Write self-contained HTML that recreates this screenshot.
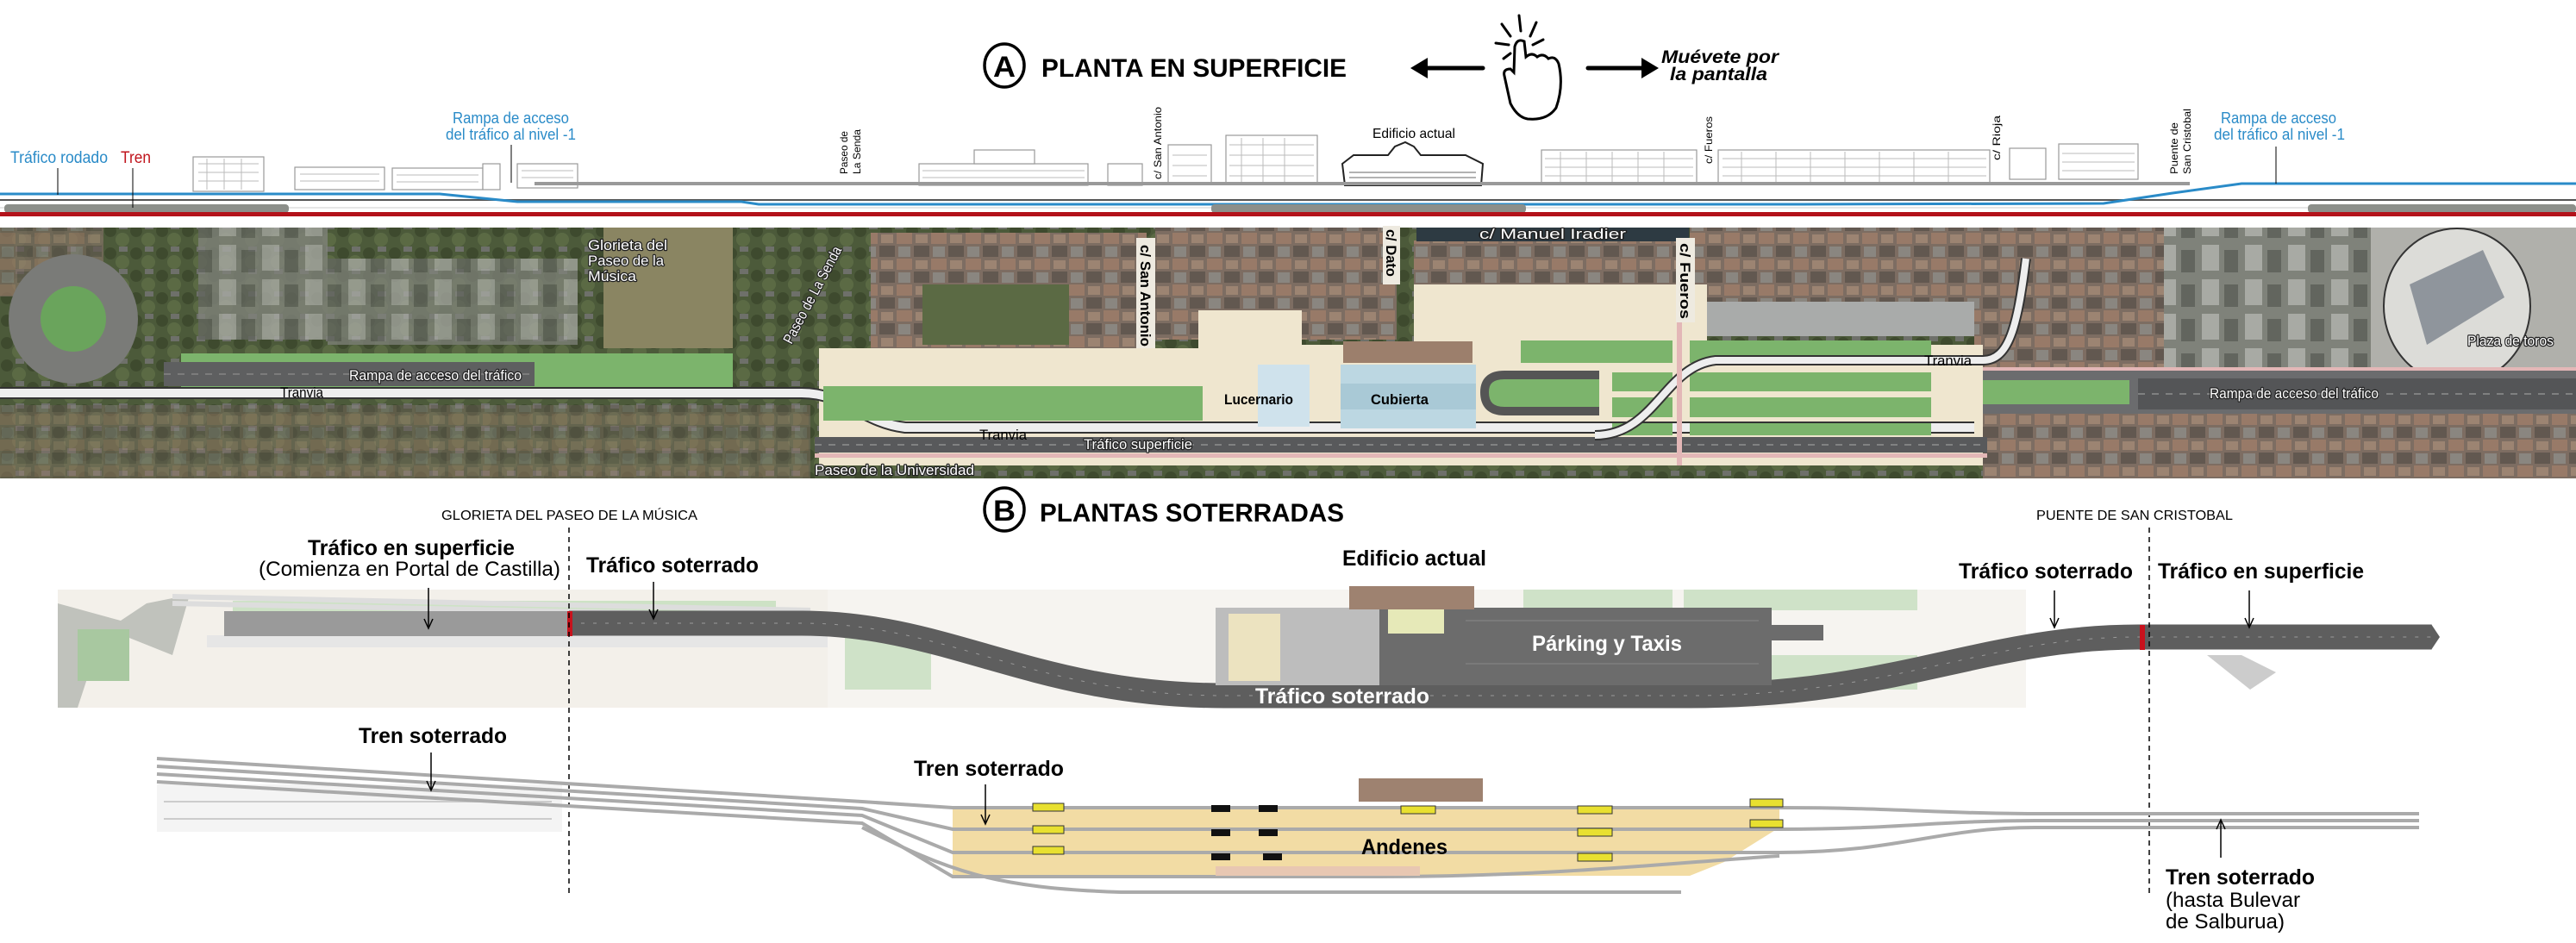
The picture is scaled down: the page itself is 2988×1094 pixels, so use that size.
<!DOCTYPE html>
<html><head><meta charset="utf-8">
<style>
html,body{margin:0;padding:0;background:#fff;}
svg{display:block;}
text{font-family:"Liberation Sans",sans-serif;}
.c{font-weight:bold;}
</style></head>
<body>
<svg width="2988" height="1094" viewBox="0 0 2988 1094" xmlns="http://www.w3.org/2000/svg">
<rect width="2988" height="1094" fill="#fff"/>

<!-- ===== TITLE A ===== -->
<ellipse cx="1165" cy="76" rx="23" ry="25" fill="none" stroke="#000" stroke-width="3.5"/>
<text x="1165" y="89" font-size="34" class="c" text-anchor="middle" textLength="26" lengthAdjust="spacingAndGlyphs">A</text>
<text x="1208" y="89" font-size="30" class="c" textLength="354" lengthAdjust="spacingAndGlyphs">PLANTA EN SUPERFICIE</text>

<!-- hand icon -->
<g stroke="#000" stroke-width="5" fill="none" stroke-linecap="round">
  <line x1="1720" y1="79" x2="1648" y2="79"/>
  <line x1="1842" y1="79" x2="1912" y2="79"/>
</g>
<polygon points="1636,79 1656,67 1656,91" fill="#000"/>
<polygon points="1924,79 1904,67 1904,91" fill="#000"/>
<g stroke="#000" stroke-width="3" fill="none" stroke-linecap="round">
  <path d="M1752,120 L1745,88 Q1743,80 1752,80 L1756,84 L1757,54 Q1760,44 1768,48 L1770,66 Q1777,60 1783,66 Q1790,61 1796,68 Q1804,64 1808,74 Q1814,100 1805,125 Q1795,140 1772,138 Q1760,136 1752,120 Z"/>
  <line x1="1762" y1="18" x2="1764" y2="36"/>
  <line x1="1742" y1="28" x2="1752" y2="42"/>
  <line x1="1782" y1="26" x2="1775" y2="42"/>
  <line x1="1735" y1="50" x2="1750" y2="52"/>
  <line x1="1790" y1="46" x2="1778" y2="52"/>
  <line x1="1744" y1="68" x2="1752" y2="62"/>
</g>
<text x="1927" y="73" font-size="21" font-weight="bold" font-style="italic" textLength="136" lengthAdjust="spacingAndGlyphs">Muévete por</text>
<text x="1937" y="93" font-size="21" font-weight="bold" font-style="italic" textLength="113" lengthAdjust="spacingAndGlyphs">la pantalla</text>

<!-- ===== PROFILE ===== -->
<g fill="#fff" stroke="#999" stroke-width="1.2">
  <rect x="224" y="182" width="82" height="40"/>
  <rect x="342" y="194" width="104" height="26"/>
  <rect x="455" y="195" width="105" height="25"/>
  <rect x="560" y="190" width="20" height="30"/>
  <rect x="600" y="190" width="70" height="28"/>
  <rect x="1066" y="190" width="196" height="25"/>
  <rect x="1130" y="174" width="70" height="16"/>
  <rect x="1285" y="190" width="40" height="25"/>
  <rect x="1355" y="168" width="50" height="44"/>
  <rect x="1422" y="157" width="106" height="56"/>
  <rect x="1788" y="174" width="180" height="40"/>
  <rect x="1993" y="174" width="315" height="40"/>
  <rect x="2331" y="172" width="42" height="36"/>
  <rect x="2388" y="167" width="92" height="41"/>
</g>
<g stroke="#bbb" stroke-width="1">
  <path d="M230,190 H300 M230,200 H300 M230,210 H300 M348,202 H440 M348,210 H440 M460,203 H555 M460,211 H555 M605,198 H665 M605,206 H665 M1070,198 H1258 M1070,206 H1258 M1360,180 H1400 M1360,192 H1400 M1360,204 H1400 M1426,168 H1524 M1426,180 H1524 M1426,192 H1524 M1426,204 H1524 M1792,184 H1964 M1792,194 H1964 M1792,204 H1964 M1998,184 H2304 M1998,194 H2304 M1998,204 H2304 M2392,178 H2476 M2392,188 H2476 M2392,198 H2476"/>
  <path d="M240,184 V220 M260,184 V220 M280,184 V220 M1810,176 V212 M1840,176 V212 M1870,176 V212 M1900,176 V212 M1930,176 V212 M2020,176 V212 M2060,176 V212 M2100,176 V212 M2140,176 V212 M2180,176 V212 M2220,176 V212 M2260,176 V212 M1440,160 V211 M1465,160 V211 M1490,160 V211"/>
</g>
<!-- Edificio actual profile -->
<g fill="#fff" stroke="#222" stroke-width="2">
  <path d="M1557,190 L1570,180 L1610,180 L1618,170 L1630,165 L1640,170 L1648,180 L1700,180 L1720,190 L1718,215 L1560,215 Z"/>
</g>
<g stroke="#666" stroke-width="1"><path d="M1565,200 H1712 M1565,206 H1712"/></g>

<!-- ground lines -->
<g fill="none">
  <path d="M620,213 H2540" stroke="#999" stroke-width="4"/>
  <path d="M0,232 H2990" stroke="#555" stroke-width="2"/>
  <path d="M0,225 H510 L600,234 H860 L880,237 H2090 L2440,236 L2520,224 L2600,213 H2990" stroke="#2a8bc8" stroke-width="3"/>
  <path d="M0,241 H2990" stroke="#ccc" stroke-width="1"/>
</g>
<g fill="#8c8f8a">
  <rect x="5" y="237" width="330" height="10" rx="4"/>
  <rect x="1405" y="237" width="365" height="10" rx="4"/>
  <rect x="2677" y="237" width="311" height="10" rx="4"/>
</g>
<rect x="0" y="246" width="2988" height="5" fill="#b3121a"/>

<text x="12" y="189" font-size="19" fill="#2a8bc8" textLength="113" lengthAdjust="spacingAndGlyphs">Tráfico rodado</text>
<text x="140" y="189" font-size="19" fill="#c0141c" textLength="35" lengthAdjust="spacingAndGlyphs">Tren</text>
<line x1="67" y1="195" x2="67" y2="226" stroke="#000" stroke-width="1"/>
<line x1="154" y1="195" x2="154" y2="241" stroke="#000" stroke-width="1"/>
<text x="525" y="143" font-size="18" fill="#2a8bc8" textLength="135" lengthAdjust="spacingAndGlyphs">Rampa de acceso</text>
<text x="517" y="162" font-size="18" fill="#2a8bc8" textLength="151" lengthAdjust="spacingAndGlyphs">del tráfico al nivel -1</text>
<line x1="593" y1="168" x2="593" y2="212" stroke="#000" stroke-width="1"/>
<text x="2576" y="143" font-size="18" fill="#2a8bc8" textLength="134" lengthAdjust="spacingAndGlyphs">Rampa de acceso</text>
<text x="2568" y="162" font-size="18" fill="#2a8bc8" textLength="152" lengthAdjust="spacingAndGlyphs">del tráfico al nivel -1</text>
<line x1="2640" y1="170" x2="2640" y2="213" stroke="#000" stroke-width="1"/>
<text x="1592" y="160" font-size="16" textLength="96" lengthAdjust="spacingAndGlyphs">Edificio actual</text>
<g font-size="12">
  <text transform="translate(983,202) rotate(-90)" textLength="50" lengthAdjust="spacingAndGlyphs">Paseo de</text>
  <text transform="translate(998,202) rotate(-90)" textLength="52" lengthAdjust="spacingAndGlyphs">La Senda</text>
  <text transform="translate(1347,208) rotate(-90)" textLength="84" lengthAdjust="spacingAndGlyphs">c/ San Antonio</text>
  <text transform="translate(1986,190) rotate(-90)" textLength="55" lengthAdjust="spacingAndGlyphs">c/ Fueros</text>
  <text transform="translate(2320,186) rotate(-90)" textLength="52" lengthAdjust="spacingAndGlyphs">c/ Rioja</text>
  <text transform="translate(2526,202) rotate(-90)" textLength="60" lengthAdjust="spacingAndGlyphs">Puente de</text>
  <text transform="translate(2541,202) rotate(-90)" textLength="76" lengthAdjust="spacingAndGlyphs">San Cristobal</text>
</g>

<!-- ===== AERIAL ===== -->
<defs>
  <pattern id="roofs" width="40" height="30" patternUnits="userSpaceOnUse">
    <rect width="40" height="30" fill="#7d6d62"/>
    <rect x="0" y="0" width="18" height="13" fill="#987a68"/>
    <rect x="20" y="15" width="18" height="13" fill="#625850"/>
    <rect x="22" y="2" width="14" height="10" fill="#9c8472"/>
    <rect x="2" y="16" width="14" height="12" fill="#8a8680"/>
  </pattern>
  <pattern id="trees" width="30" height="26" patternUnits="userSpaceOnUse">
    <rect width="30" height="26" fill="#4c5a3a"/>
    <circle cx="8" cy="8" r="7" fill="#3e4a2e"/>
    <circle cx="22" cy="18" r="8" fill="#5b6a44"/>
    <rect x="18" y="0" width="10" height="6" fill="#6e706a"/>
  </pattern>
  <pattern id="blocks" width="50" height="40" patternUnits="userSpaceOnUse">
    <rect width="50" height="40" fill="#7f827a"/>
    <rect x="4" y="4" width="20" height="30" fill="#a8aaa4"/>
    <rect x="30" y="10" width="16" height="26" fill="#62655e"/>
  </pattern>
</defs>
<rect x="0" y="264" width="2988" height="291" fill="url(#trees)"/>
<rect x="0" y="264" width="120" height="80" fill="url(#roofs)" opacity="0.7"/>
<rect x="230" y="264" width="150" height="130" fill="url(#blocks)" opacity="0.8"/>
<rect x="380" y="300" width="290" height="100" fill="url(#blocks)" opacity="0.75"/>
<rect x="700" y="264" width="150" height="140" fill="#8a8562"/>
<rect x="1010" y="270" width="320" height="135" fill="url(#roofs)"/>
<rect x="1070" y="330" width="170" height="70" fill="#5b6a44"/>
<rect x="1340" y="264" width="280" height="130" fill="url(#roofs)"/>
<rect x="1640" y="279" width="320" height="120" fill="url(#roofs)"/>
<rect x="1960" y="264" width="330" height="110" fill="url(#roofs)"/>
<rect x="1960" y="350" width="330" height="40" fill="#a9abaa"/>
<rect x="2290" y="264" width="220" height="170" fill="url(#roofs)"/>
<rect x="2510" y="264" width="240" height="170" fill="url(#blocks)"/>
<rect x="2750" y="264" width="238" height="180" fill="#b0b0ab"/>
<ellipse cx="2850" cy="355" rx="85" ry="90" fill="#dcdcd8" stroke="#333" stroke-width="2"/>
<path d="M2795,330 L2880,290 L2905,345 L2815,400 Z" fill="#8f959c"/>
<rect x="1050" y="535" width="1250" height="20" fill="url(#trees)"/>
<rect x="2300" y="475" width="688" height="80" fill="url(#roofs)"/>
<rect x="0" y="470" width="940" height="85" fill="url(#roofs)" opacity="0.5"/>
<!-- roundabout -->
<circle cx="85" cy="370" r="75" fill="#7a7b78"/>
<circle cx="85" cy="370" r="38" fill="#6aa45c"/>
<!-- plaza beige -->
<path d="M215,404 H950 V540 H2300 V400 H1980 V330 H1640 V400 H1400 V404 H215 Z" fill="#efe6cf"/>
<rect x="1390" y="360" width="120" height="45" fill="#efe6cf"/>
<!-- left green + rampa -->
<rect x="210" y="410" width="640" height="48" fill="#7cb46c"/>
<rect x="190" y="420" width="430" height="28" fill="#5e5f60"/>
<line x1="190" y1="434" x2="620" y2="434" stroke="#999" stroke-dasharray="8 8"/>
<!-- tranvia left -->
<path d="M0,456 H930 C980,456 1000,490 1050,496 H2290" fill="none" stroke="#333" stroke-width="14"/>
<path d="M0,456 H930 C980,456 1000,490 1050,496 H2290" fill="none" stroke="#eeeeee" stroke-width="10"/>
<!-- center greens -->
<rect x="955" y="448" width="440" height="40" fill="#7cb46c"/>
<!-- trafico superficie -->
<rect x="945" y="507" width="1360" height="18" fill="#58595b"/>
<line x1="945" y1="516" x2="2305" y2="516" stroke="#aaa" stroke-dasharray="8 8"/>
<rect x="945" y="526" width="1360" height="5" fill="#e3b7b7"/>
<!-- lucernario & cubierta -->
<rect x="1459" y="423" width="60" height="72" fill="#cfe2ec"/>
<rect x="1555" y="423" width="157" height="74" fill="#bcd7e2"/>
<rect x="1555" y="445" width="157" height="30" fill="#a9c9d6"/>
<rect x="1558" y="396" width="150" height="25" fill="#9c7f6c"/>
<!-- u-turn -->
<path d="M1855,435 H1745 Q1722,435 1722,455 Q1722,477 1745,477 H1855" fill="#7cb46c" stroke="#555" stroke-width="10"/>
<!-- right greens -->
<g fill="#7cb46c">
  <rect x="1764" y="395" width="176" height="26"/><rect x="1960" y="395" width="280" height="26"/>
  <rect x="1870" y="432" width="70" height="22"/><rect x="1960" y="432" width="280" height="22"/>
  <rect x="1870" y="461" width="70" height="23"/><rect x="1960" y="461" width="280" height="23"/>
  <rect x="1870" y="491" width="70" height="14"/><rect x="1960" y="491" width="280" height="14"/>
</g>
<path d="M1850,505 C1920,505 1930,425 1990,418 H2300 C2330,418 2340,380 2350,300" fill="none" stroke="#333" stroke-width="12"/>
<path d="M1850,505 C1920,505 1930,425 1990,418 H2300 C2330,418 2340,380 2350,300" fill="none" stroke="#eee" stroke-width="8"/>
<rect x="1945" y="330" width="6" height="210" fill="#e3b7b7"/>
<!-- right rampa -->
<rect x="2300" y="430" width="688" height="50" fill="#6b6c6e"/>
<rect x="2300" y="441" width="170" height="28" fill="#7cb46c"/>
<rect x="2480" y="439" width="508" height="36" fill="#545557"/>
<line x1="2480" y1="457" x2="2988" y2="457" stroke="#aaa" stroke-dasharray="8 8"/>
<rect x="2300" y="426" width="688" height="4" fill="#e3b7b7"/>
<!-- manuel iradier box -->
<rect x="1643" y="264" width="316" height="16" fill="#2d3a42"/>
<!-- aerial labels -->
<g font-size="17" fill="#fff" stroke="#222" stroke-width="2.5" paint-order="stroke" stroke-linejoin="round">
  <text x="682" y="290" textLength="92" lengthAdjust="spacingAndGlyphs">Glorieta del</text>
  <text x="682" y="308" textLength="88" lengthAdjust="spacingAndGlyphs">Paseo de la</text>
  <text x="682" y="326" textLength="56" lengthAdjust="spacingAndGlyphs">Música</text>
  <text x="405" y="441" textLength="200" lengthAdjust="spacingAndGlyphs">Rampa de acceso del tráfico</text>
  <text x="1257" y="521" textLength="126" lengthAdjust="spacingAndGlyphs">Tráfico superficie</text>
  <text x="945" y="551" textLength="185" lengthAdjust="spacingAndGlyphs">Paseo de la Universidad</text>
  <text x="1716" y="277" textLength="170" lengthAdjust="spacingAndGlyphs">c/ Manuel Iradier</text>
  <text x="2862" y="401" textLength="100" lengthAdjust="spacingAndGlyphs">Plaza de toros</text>
  <text x="2563" y="462" textLength="196" lengthAdjust="spacingAndGlyphs">Rampa de acceso del tráfico</text>
  <text transform="translate(918,400) rotate(-62)" textLength="125" lengthAdjust="spacingAndGlyphs">Paseo de La Senda</text>
</g>
<g font-size="17" fill="#000">
  <text x="325" y="461" textLength="50" lengthAdjust="spacingAndGlyphs">Tranvia</text>
  <text x="1136" y="510" textLength="55" lengthAdjust="spacingAndGlyphs">Tranvia</text>
  <text x="2232" y="424" textLength="55" lengthAdjust="spacingAndGlyphs">Tranvia</text>
  <text x="1420" y="469" textLength="80" lengthAdjust="spacingAndGlyphs" font-weight="bold">Lucernario</text>
  <text x="1590" y="469" textLength="67" lengthAdjust="spacingAndGlyphs" font-weight="bold">Cubierta</text>
</g>
<rect x="1318" y="276" width="22" height="128" fill="#eeeae0"/>
<rect x="1604" y="262" width="20" height="68" fill="#eeeae0"/>
<rect x="1944" y="276" width="22" height="98" fill="#eeeae0"/>
<g font-size="17" fill="#000" font-weight="bold">
  <text transform="translate(1323,284) rotate(90)" textLength="118" lengthAdjust="spacingAndGlyphs">c/ San Antonio</text>
  <text transform="translate(1608,266) rotate(90)" textLength="55" lengthAdjust="spacingAndGlyphs">c/ Dato</text>
  <text transform="translate(1949,282) rotate(90)" textLength="88" lengthAdjust="spacingAndGlyphs">c/ Fueros</text>
</g>

<!-- ===== TITLE B ===== -->
<ellipse cx="1165" cy="591" rx="23" ry="25" fill="none" stroke="#000" stroke-width="3.5"/>
<text x="1165" y="604" font-size="34" class="c" text-anchor="middle" textLength="26" lengthAdjust="spacingAndGlyphs">B</text>
<text x="1206" y="605" font-size="30" class="c" textLength="353" lengthAdjust="spacingAndGlyphs">PLANTAS SOTERRADAS</text>
<text x="512" y="603" font-size="16" textLength="297" lengthAdjust="spacingAndGlyphs">GLORIETA DEL PASEO DE LA MÚSICA</text>
<text x="2362" y="603" font-size="16" textLength="228" lengthAdjust="spacingAndGlyphs">PUENTE DE SAN CRISTOBAL</text>

<!-- traffic plan backgrounds -->
<rect x="67" y="684" width="893" height="137" fill="#f3f0ea"/>
<path d="M67,700 L140,720 L170,700 L220,690 L200,760 L150,740 L110,760 L90,821 H67 Z" fill="#c0c2bc"/>
<rect x="90" y="730" width="60" height="60" fill="#a8c8a0"/>
<rect x="270" y="697" width="630" height="18" fill="#cde2c5"/>
<g stroke="#ddd" stroke-width="6"><line x1="200" y1="692" x2="940" y2="708"/><line x1="200" y1="700" x2="940" y2="715"/></g>
<rect x="240" y="737" width="720" height="14" fill="#e6e6e6"/>
<rect x="960" y="684" width="1390" height="137" fill="#f6f4f0"/>
<rect x="1767" y="684" width="173" height="24" fill="#cfe2c8"/>
<rect x="1953" y="684" width="271" height="24" fill="#cfe2c8"/>
<rect x="1990" y="760" width="234" height="40" fill="#cfe2c8"/>
<rect x="980" y="740" width="100" height="60" fill="#cfe2c8"/>
<!-- road -->
<rect x="260" y="709" width="400" height="29" fill="#9a9a9a"/>
<path d="M660,723 H930 C1100,723 1200,807 1420,807 H1960 C2200,807 2300,739 2480,739 H2820" fill="none" stroke="#5e5e5e" stroke-width="29"/>
<path d="M660,723 H930 C1100,723 1200,807 1420,807 H1960 C2200,807 2300,739 2480,739 H2820" fill="none" stroke="#999" stroke-width="1" stroke-dasharray="4 10"/>
<polygon points="2820,724 2830,739 2820,754" fill="#5e5e5e"/>
<path d="M2560,760 L2610,800 L2640,780 L2600,760 Z" fill="#ccc"/>
<!-- parking block -->
<rect x="1600" y="705" width="455" height="90" fill="#6c6c6c"/>
<rect x="1410" y="705" width="190" height="90" fill="#bdbdbd"/>
<rect x="1425" y="712" width="60" height="78" fill="#ece3c0"/>
<rect x="1610" y="707" width="65" height="28" fill="#e6e9b8"/>
<rect x="1565" y="680" width="145" height="27" fill="#9e8270"/>
<g stroke="#888" stroke-width="1"><path d="M1700,720 H2040 M1700,770 H2040"/></g>
<rect x="2055" y="725" width="60" height="18" fill="#6c6c6c"/>
<rect x="658" y="709" width="6" height="29" fill="#c8121c"/>
<rect x="2482" y="725" width="6" height="29" fill="#c8121c"/>

<!-- dashed lines -->
<g stroke="#000" stroke-width="1.5" stroke-dasharray="6 5">
  <line x1="660" y1="612" x2="660" y2="1041"/>
  <line x1="2493" y1="612" x2="2493" y2="1041"/>
</g>

<!-- train plan -->
<rect x="182" y="910" width="470" height="55" fill="#f4f4f4"/>
<g stroke="#ccc" stroke-width="2"><path d="M190,930 H640 M190,950 H640"/></g>
<path d="M1105,935 H2064 V960 L2000,1000 L1960,1016 H1105 Z" fill="#f2dca4"/>
<g fill="none" stroke="#aaa" stroke-width="4">
  <path d="M182,880 L1000,930 L1105,937 H2064 C2200,937 2250,944 2360,944 H2806"/>
  <path d="M182,889 L1000,938 L1105,962 H2064 C2200,962 2250,952 2360,952 H2806"/>
  <path d="M182,898 L1000,946 L1105,989 H2064 C2200,989 2250,960 2360,960 H2806"/>
  <path d="M182,907 L1000,955 L1105,1017 H1600 C1800,1017 1950,1000 2064,993"/>
  <path d="M1000,960 C1100,1010 1150,1030 1300,1035 H1950"/>
</g>
<rect x="1410" y="1005" width="237" height="11" fill="#e8c7b2"/>
<rect x="1576" y="903" width="144" height="27" fill="#9e8270"/>
<g fill="#111">
  <rect x="1405" y="934" width="22" height="8"/><rect x="1460" y="934" width="22" height="8"/>
  <rect x="1405" y="962" width="22" height="8"/><rect x="1460" y="962" width="22" height="8"/>
  <rect x="1405" y="990" width="22" height="8"/><rect x="1465" y="990" width="22" height="8"/>
</g>
<g fill="#e8e030" stroke="#333" stroke-width="1">
  <rect x="1198" y="932" width="36" height="9"/><rect x="1625" y="935" width="40" height="9"/>
  <rect x="1830" y="935" width="40" height="9"/><rect x="2030" y="927" width="38" height="9"/>
  <rect x="1830" y="961" width="40" height="9"/><rect x="2030" y="951" width="38" height="9"/>
  <rect x="1198" y="958" width="36" height="9"/><rect x="1198" y="982" width="36" height="9"/>
  <rect x="1830" y="990" width="40" height="9"/>
</g>

<!-- arrows -->
<g stroke="#000" stroke-width="1.5" fill="none">
  <line x1="497" y1="682" x2="497" y2="728"/><path d="M492,718 L497,729 L502,718"/>
  <line x1="758" y1="675" x2="758" y2="717"/><path d="M753,707 L758,718 L763,707"/>
  <line x1="2383" y1="685" x2="2383" y2="727"/><path d="M2378,717 L2383,728 L2388,717"/>
  <line x1="2609" y1="685" x2="2609" y2="727"/><path d="M2604,717 L2609,728 L2614,717"/>
  <line x1="500" y1="873" x2="500" y2="916"/><path d="M495,906 L500,917 L505,906"/>
  <line x1="1143" y1="910" x2="1143" y2="955"/><path d="M1138,945 L1143,956 L1148,945"/>
  <line x1="2576" y1="995" x2="2576" y2="952"/><path d="M2571,962 L2576,951 L2581,962"/>
</g>

<!-- plan labels -->
<g class="c" font-size="25">
  <text x="357" y="644" textLength="240" lengthAdjust="spacingAndGlyphs">Tráfico en superficie</text>
  <text x="680" y="664" textLength="200" lengthAdjust="spacingAndGlyphs">Tráfico soterrado</text>
  <text x="1557" y="656" textLength="167" lengthAdjust="spacingAndGlyphs">Edificio actual</text>
  <text x="2272" y="671" textLength="202" lengthAdjust="spacingAndGlyphs">Tráfico soterrado</text>
  <text x="2503" y="671" textLength="239" lengthAdjust="spacingAndGlyphs">Tráfico en superficie</text>
  <text x="416" y="862" textLength="172" lengthAdjust="spacingAndGlyphs">Tren soterrado</text>
  <text x="1060" y="900" textLength="174" lengthAdjust="spacingAndGlyphs">Tren soterrado</text>
  <text x="1579" y="991" textLength="100" lengthAdjust="spacingAndGlyphs">Andenes</text>
  <text x="2512" y="1026" textLength="173" lengthAdjust="spacingAndGlyphs">Tren soterrado</text>
  <text x="1777" y="755" fill="#fff" textLength="174" lengthAdjust="spacingAndGlyphs">Párking y Taxis</text>
  <text x="1456" y="816" fill="#fff" textLength="202" lengthAdjust="spacingAndGlyphs">Tráfico soterrado</text>
</g>
<g font-size="24">
  <text x="300" y="668" textLength="350" lengthAdjust="spacingAndGlyphs">(Comienza en Portal de Castilla)</text>
  <text x="2512" y="1052" textLength="156" lengthAdjust="spacingAndGlyphs">(hasta Bulevar</text>
  <text x="2512" y="1077" textLength="138" lengthAdjust="spacingAndGlyphs">de Salburua)</text>
</g>
</svg>
</body></html>
